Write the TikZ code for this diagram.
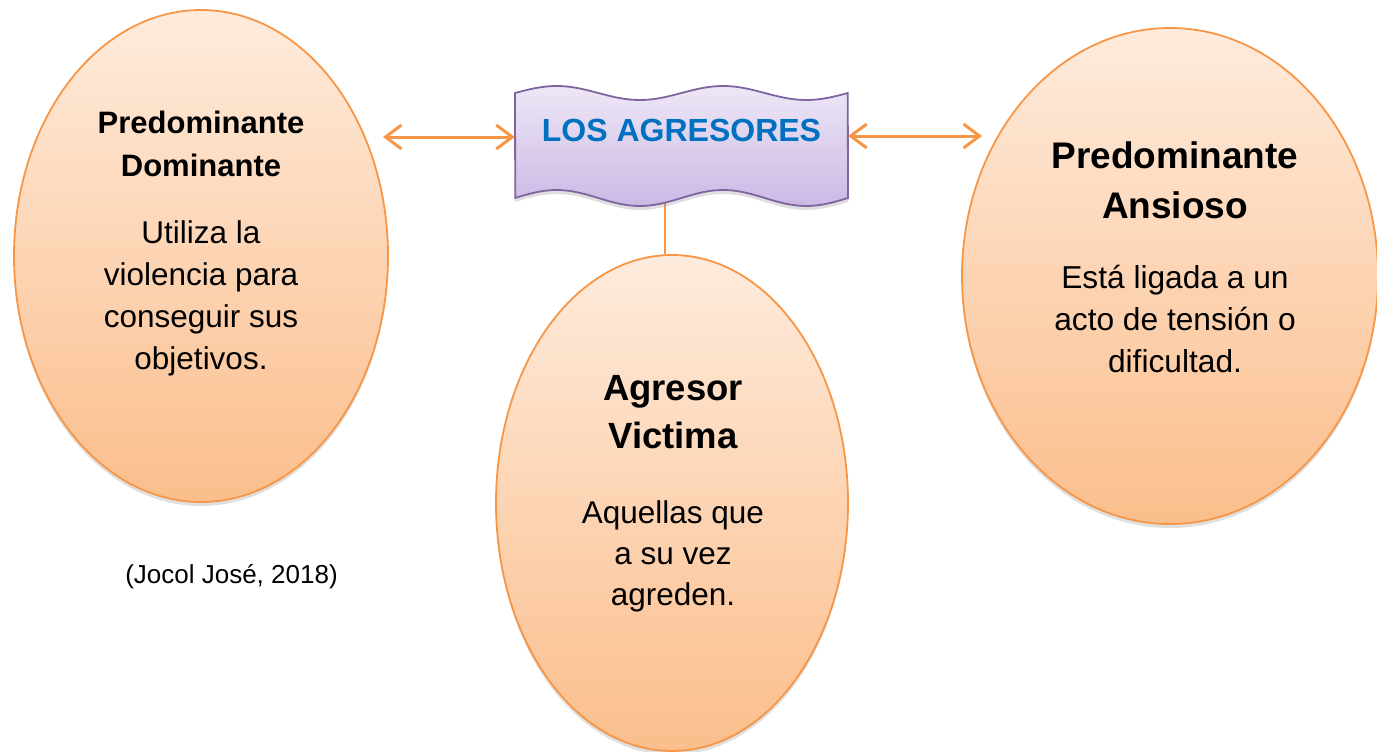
\documentclass[tikz,border=0pt]{standalone}
\usepackage{fontspec}
\setmainfont{Liberation Sans}
\usetikzlibrary{shapes.geometric,shadows,arrows.meta}

\definecolor{peachtop}{HTML}{FEEBDC}
\definecolor{peachbot}{HTML}{FBBE8C}
\definecolor{peachline}{HTML}{F79646}
\definecolor{lilactop}{HTML}{EEE7F6}
\definecolor{lilacbot}{HTML}{CBB9E5}
\definecolor{lilacline}{HTML}{8064A2}
\definecolor{titleblue}{HTML}{0070C0}

\begin{document}
\begin{tikzpicture}[x=1pt,y=-1pt,
	bubble/.style={ellipse,draw=peachline,line width=1.8pt,top color=peachtop,bottom color=peachbot,inner sep=0pt,
		drop shadow={shadow xshift=0pt,shadow yshift=-4pt,opacity=0.25}},
	head/.style={font=\fontsize{31}{43}\selectfont\bfseries,align=center,inner sep=0pt,anchor=north},
	body/.style={font=\fontsize{31.5}{42}\selectfont,align=center,inner sep=0pt,anchor=north},
	link/.style={draw=peachline,line width=3pt,{Straight Barb[length=16pt,width=24pt]}-{Straight Barb[length=16pt,width=24pt]}}
]
	\useasboundingbox (0,0) rectangle (1377,752);

	% The three ellipses
	\node[bubble,minimum width=374pt,minimum height=492pt] (dominante) at (201,256) {};
	\node[bubble,minimum width=352pt,minimum height=496pt] (victima) at (672,503) {};
	\node[bubble,minimum width=416pt,minimum height=496pt] (ansioso) at (1170,276) {};

	% The stem under the banner
	\coordinate (stem) at (665,200);
	\draw[peachline,line width=2.5pt] (stem) -- (stem |- victima.north);

	% The wavy banner
	\draw[lilacline,line width=1.8pt,top color=lilactop,bottom color=lilacbot,
		drop shadow={shadow xshift=0pt,shadow yshift=-4pt,opacity=0.25}]
		plot[domain=0:1,samples=80] ({515+333*\x},{93-7*sin(720*\x)})
		-- (848,199)
		-- plot[domain=1:0,samples=80] ({515+333*\x},{198-8*sin(720*\x)})
		-- cycle;
	\node[font=\fontsize{32}{38}\selectfont\bfseries,text=titleblue,text height=23pt,text depth=31pt,
		minimum width=333pt,inner sep=0pt] (agresores) at (681.5,145) {LOS AGRESORES};

	% The two arrows
	\coordinate (linkL) at (383,137);
	\coordinate (linkR) at (982,136);
	\draw[link] (linkL) -- (linkL -| agresores.west);
	\draw[link] (linkR -| agresores.east) -- (linkR);

	% Texts in the ellipses
	\node[head] (dominanteT) at (201,111) {Predominante\\Dominante};
	\node[body] (dominanteB) at (201,220) {Utiliza la\\violencia para\\conseguir sus\\objetivos.};
	\node[head,font=\fontsize{36.5}{48}\selectfont\bfseries] (victimaT) at (673,375) {Agresor\\Victima};
	\node[body,font=\fontsize{31.5}{41}\selectfont] (victimaB) at (673,500) {Aquellas que\\a su vez\\agreden.};
	\node[head,font=\fontsize{37}{50}\selectfont\bfseries] (ansiosoT) at (1175,141.5) {Predominante\\Ansioso};
	\node[body,font=\fontsize{31.7}{42}\selectfont] (ansiosoB) at (1175,264.5) {Está ligada a un\\acto de tensión o\\dificultad.};

	\node[font=\fontsize{26}{30}\selectfont,anchor=base,inner sep=0pt] (fuente) at (231.5,583) {(Jocol José, 2018)};
\end{tikzpicture}
\end{document}
